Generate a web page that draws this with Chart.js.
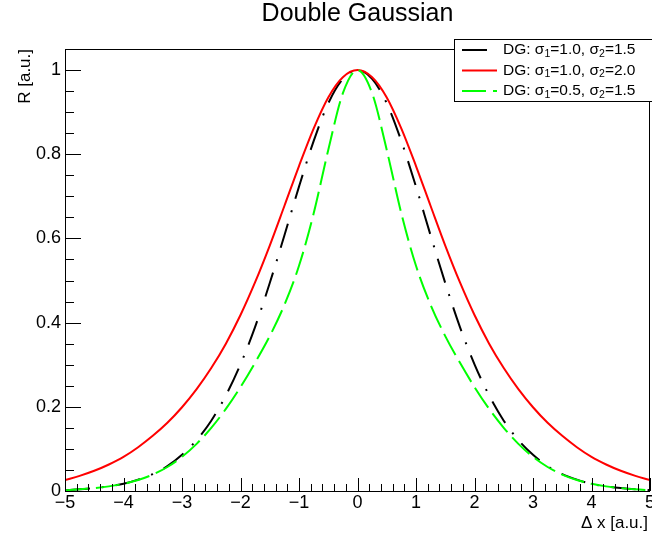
<!DOCTYPE html>
<html>
<head>
<meta charset="utf-8">
<script src="https://cdn.jsdelivr.net/npm/chart.js@4"></script>
<style>
body { margin: 0; background: #fff; }
</style>
</head>
<body>
<canvas id="grafico" width="652" height="537"></canvas>
<script>
// datos
const xs = [-5, -4.75, -4.5, -4.25, -4, -3.75, -3.5, -3.25, -3, -2.75, -2.5, -2.25, -2, -1.75, -1.5, -1.25, -1, -0.75, -0.5, -0.25,
  0, 0.25, 0.5, 0.75, 1, 1.25, 1.5, 1.75, 2, 2.25, 2.5, 2.75, 3, 3.25, 3.5, 3.75, 4, 4.25, 4.5, 4.75, 5];

const dg1 = [0.002, 0.004, 0.007, 0.011, 0.017, 0.027, 0.040, 0.059, 0.086, 0.121, 0.167, 0.227, 0.301, 0.390, 0.494, 0.607, 0.723, 0.831, 0.921, 0.979,
  1.000, 0.979, 0.921, 0.831, 0.723, 0.607, 0.494, 0.390, 0.301, 0.227, 0.167, 0.121, 0.086, 0.059, 0.040, 0.027, 0.017, 0.011, 0.007, 0.004, 0.002];

const dg2 = [0.026, 0.036, 0.048, 0.063, 0.081, 0.104, 0.131, 0.162, 0.199, 0.242, 0.292, 0.350, 0.418, 0.496, 0.583, 0.677, 0.772, 0.861, 0.935, 0.983,
  1.000, 0.983, 0.935, 0.861, 0.772, 0.677, 0.583, 0.496, 0.418, 0.350, 0.292, 0.242, 0.199, 0.162, 0.131, 0.104, 0.081, 0.063, 0.048, 0.036, 0.026];

const dg3 = [0.002, 0.004, 0.007, 0.011, 0.017, 0.026, 0.039, 0.057, 0.081, 0.112, 0.150, 0.195, 0.247, 0.305, 0.368, 0.442, 0.535, 0.659, 0.810, 0.945,
  1.000, 0.945, 0.810, 0.659, 0.535, 0.442, 0.368, 0.305, 0.247, 0.195, 0.150, 0.112, 0.081, 0.057, 0.039, 0.026, 0.017, 0.011, 0.007, 0.004, 0.002];

const sigma1 = ['1.0', '1.0', '0.5'];
const sigma2 = ['1.5', '2.0', '1.5'];

const xTicks = [-5, -4, -3, -2, -1, 0, 1, 2, 3, 4, 5];
const yTicks = [0, 0.2, 0.4, 0.6, 0.8, 1];

const fuente = '"Liberation Sans", Arial, Helvetica, sans-serif';
Chart.defaults.font.family = fuente;
Chart.defaults.color = '#000';

const puntos = serie => xs.map((x, i) => ({ x, y: serie[i] }));

// marco, ticks, titulos y leyenda estilo ROOT
const marco = {
  id: 'marco',
  afterDraw(chart) {
    const { ctx, chartArea: a, scales: { x, y } } = chart;
    ctx.save();
    ctx.strokeStyle = '#000';
    ctx.lineWidth = 1;
    ctx.setLineDash([]);
    ctx.strokeRect(a.left + 0.5, a.top + 0.5, a.right - a.left - 1, a.bottom - a.top);

    ctx.beginPath();
    for (let i = -25; i <= 25; i++) {
      const px = Math.round(x.getPixelForValue(i / 5)) + 0.5;
      const largo = i % 5 === 0 ? 13 : 7;
      ctx.moveTo(px, a.bottom);
      ctx.lineTo(px, a.bottom - largo);
    }
    for (let i = 0; i <= 21; i++) {
      const py = Math.round(y.getPixelForValue(i * 0.05)) + 0.5;
      const largo = i % 4 === 0 ? 16 : 9;
      ctx.moveTo(a.left, py);
      ctx.lineTo(a.left + largo, py);
    }
    ctx.stroke();

    // titulo
    ctx.fillStyle = '#000';
    ctx.textBaseline = 'middle';
    ctx.textAlign = 'center';
    ctx.font = '25px ' + fuente;
    ctx.fillText('Double Gaussian', (a.left + a.right) / 2, 14);

    // titulos de ejes
    ctx.font = '17px ' + fuente;
    ctx.textAlign = 'right';
    ctx.fillText('\u0394 x [a.u.]', 648, 523);
    ctx.save();
    ctx.translate(25, a.top);
    ctx.rotate(-Math.PI / 2);
    ctx.fillText('R [a.u.]', 0, 0);
    ctx.restore();

    // leyenda
    ctx.fillStyle = '#fff';
    ctx.fillRect(454.5, 39.5, 210, 62);
    ctx.strokeRect(454.5, 39.5, 210, 62);
    const filas = [50, 70.5, 91];
    chart.data.datasets.forEach((ds, i) => {
      const fy = filas[i];
      ctx.strokeStyle = ds.borderColor;
      ctx.lineWidth = ds.borderWidth;
      ctx.setLineDash(ds.borderDash || []);
      ctx.beginPath();
      ctx.moveTo(462, fy);
      ctx.lineTo(497, fy);
      ctx.stroke();
      ctx.setLineDash([]);

      ctx.fillStyle = '#000';
      ctx.textAlign = 'left';
      let tx = 503;
      const partes = [['DG: \u03c3', 0], ['1', 1], ['=' + sigma1[i] + ', \u03c3', 0], ['2', 1], ['=' + sigma2[i], 0]];
      partes.forEach(([t, sub]) => {
        ctx.font = (sub ? 10.5 : 15.5) + 'px ' + fuente;
        ctx.fillText(t, tx, fy + (sub ? 4 : 0));
        tx += ctx.measureText(t).width;
      });
    });
    ctx.restore();
  }
};

const ctx = document.getElementById('grafico').getContext('2d');
new Chart(ctx, {
  type: 'line',
  data: {
    datasets: [
      { data: puntos(dg1), borderColor: '#000000', borderWidth: 2, borderDash: [25, 12, 2, 12], order: 3 },
      { data: puntos(dg2), borderColor: '#ff0000', borderWidth: 2, order: 2 },
      { data: puntos(dg3), borderColor: '#00ff00', borderWidth: 2, borderDash: [24, 7], order: 1 }
    ]
  },
  options: {
    responsive: false,
    animation: false,
    layout: { padding: { left: 0, right: 2, top: 49, bottom: 0 } },
    elements: {
      point: { radius: 0 },
      line: { cubicInterpolationMode: 'monotone', fill: false }
    },
    plugins: {
      legend: { display: false },
      tooltip: { enabled: false },
      title: { display: false }
    },
    scales: {
      x: {
        type: 'linear',
        min: -5,
        max: 5,
        grid: { display: false, drawTicks: false },
        border: { display: false },
        afterBuildTicks: s => { s.ticks = xTicks.map(value => ({ value })); },
        afterFit: s => { s.height = 46; s.paddingLeft = 0; s.paddingRight = 0; },
        ticks: {
          padding: 1,
          maxRotation: 0,
          autoSkip: false,
          font: { size: 18 },
          color: '#000',
          callback: v => v < 0 ? '\u2212' + (-v) : String(v)
        }
      },
      y: {
        type: 'linear',
        min: 0,
        max: 1.05,
        grid: { display: false, drawTicks: false },
        border: { display: false },
        afterBuildTicks: s => { s.ticks = yTicks.map(value => ({ value })); },
        afterFit: s => { s.width = 65; s.paddingTop = 0; s.paddingBottom = 0; },
        ticks: {
          padding: 4,
          autoSkip: false,
          font: { size: 18 },
          color: '#000',
          callback: v => String(Number(v.toFixed(2)))
        }
      }
    }
  },
  plugins: [marco]
});
</script>
</body>
</html>
